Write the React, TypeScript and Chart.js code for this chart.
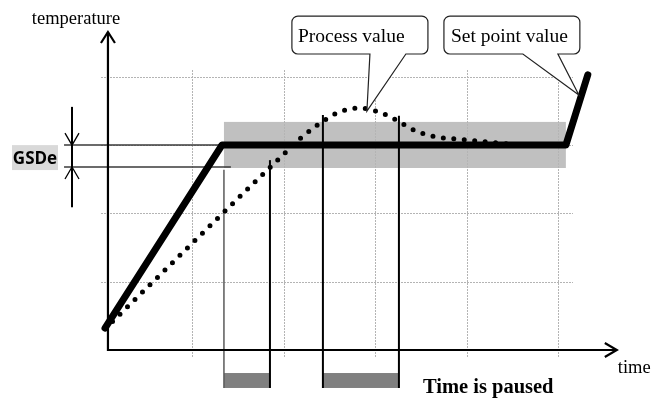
import React, { useEffect, useRef } from "react";
import { Chart, registerables } from "chart.js";

Chart.register(...registerables);

// ---- data (time units = grid columns, temperature units = grid rows) ----
const setPointTime = [0.044, 1.322, 5.082, 5.322];
const setPointTemp = [0.32, 3.0, 3.0, 4.03];

const processTime = [0.044, 2.022, 2.197, 2.383, 2.579, 2.809, 3.038, 3.246, 3.443, 3.672, 3.902, 4.131, 4.58];
const processTemp = [0.31, 2.899, 3.119, 3.309, 3.47, 3.543, 3.485, 3.353, 3.206, 3.119, 3.089, 3.06, 3.0];

const gridTimes = [1, 2, 3, 4, 5];
const gridTemps = [1, 2, 3, 4];

const bandTime = [1.344, 5.082];
const bandTemp = [2.665, 3.34];

const gsdeTemp = [3.0, 2.68];
const gsdeLineEnd = [1.322, 1.42];

const pauseStart = [1.344, 2.426];
const pauseEnd = [1.847, 3.257];
const pauseStartTop = [2.64, 3.44];
const pauseEndTop = [2.78, 3.43];

const labels = {
  yAxis: "temperature",
  xAxis: "time",
  gsde: "GSDe",
  paused: "Time is paused",
  process: "Process value",
  setPoint: "Set point value",
};

const SERIF = '"Liberation Serif", "Times New Roman", serif';

function roundedCallout(
  ctx: CanvasRenderingContext2D,
  x0: number, y0: number, x1: number, y1: number, r: number,
  b0: number, b1: number, tx: number, ty: number
) {
  ctx.beginPath();
  ctx.moveTo(x0 + r, y0);
  ctx.lineTo(x1 - r, y0);
  ctx.arcTo(x1, y0, x1, y0 + r, r);
  ctx.lineTo(x1, y1 - r);
  ctx.arcTo(x1, y1, x1 - r, y1, r);
  ctx.lineTo(b1, y1);
  ctx.lineTo(tx, ty);
  ctx.lineTo(b0, y1);
  ctx.lineTo(x0 + r, y1);
  ctx.arcTo(x0, y1, x0, y1 - r, r);
  ctx.lineTo(x0, y0 + r);
  ctx.arcTo(x0, y0, x0 + r, y0, r);
  ctx.closePath();
  ctx.fillStyle = "#ffffff";
  ctx.fill();
  ctx.strokeStyle = "#222";
  ctx.lineWidth = 1.2;
  ctx.stroke();
}

const diagramPlugin = {
  id: "diagram",
  beforeDatasetsDraw(chart: any) {
    const ctx: CanvasRenderingContext2D = chart.ctx;
    const xs = chart.scales.x;
    const ys = chart.scales.y;
    const X = (v: number) => xs.getPixelForValue(v);
    const Y = (v: number) => ys.getPixelForValue(v);
    const area = chart.chartArea;
    ctx.save();

    // band
    ctx.fillStyle = "#c0c0c0";
    ctx.fillRect(X(bandTime[0]), Y(bandTemp[1]), X(bandTime[1]) - X(bandTime[0]), Y(bandTemp[0]) - Y(bandTemp[1]));

    // grid
    ctx.strokeStyle = "#b4b4b4";
    ctx.lineWidth = 1;
    ctx.setLineDash([2, 1]);
    gridTimes.forEach((t) => {
      const px = Math.round(X(t)) + 0.5;
      ctx.beginPath();
      ctx.moveTo(px, area.top);
      ctx.lineTo(px, area.bottom);
      ctx.stroke();
    });
    gridTemps.forEach((v) => {
      const py = Math.round(Y(v)) + 0.5;
      ctx.beginPath();
      ctx.moveTo(area.left, py);
      ctx.lineTo(area.right, py);
      ctx.stroke();
    });
    ctx.setLineDash([]);

    // pause bars
    ctx.fillStyle = "#808080";
    pauseStart.forEach((s, i) => {
      ctx.fillRect(X(s), Y(-0.337), X(pauseEnd[i]) - X(s), Y(-0.556) - Y(-0.337));
    });
    // pause lines
    pauseStart.forEach((s, i) => {
      ctx.lineWidth = i === 0 ? 1.5 : 2;
      ctx.strokeStyle = i === 0 ? "#5a5a5a" : "#000";
      ctx.beginPath();
      ctx.moveTo(X(s), Y(pauseStartTop[i]));
      ctx.lineTo(X(s), Y(-0.556));
      ctx.stroke();
      ctx.lineWidth = 2;
      ctx.strokeStyle = "#000";
      ctx.beginPath();
      ctx.moveTo(X(pauseEnd[i]), Y(pauseEndTop[i]));
      ctx.lineTo(X(pauseEnd[i]), Y(-0.556));
      ctx.stroke();
    });

    // GSDe marks
    const gx = X(-0.317);
    ctx.strokeStyle = "#3a3a3a";
    ctx.lineWidth = 1.5;
    gsdeTemp.forEach((v, i) => {
      ctx.beginPath();
      ctx.moveTo(X(-0.404), Y(v));
      ctx.lineTo(X(gsdeLineEnd[i]), Y(v));
      ctx.stroke();
    });
    ctx.strokeStyle = "#000";
    ctx.lineWidth = 2;
    ctx.beginPath();
    ctx.moveTo(gx, Y(3.56));
    ctx.lineTo(gx, Y(2.09));
    ctx.stroke();
    ctx.lineWidth = 1.3;
    const yTop = Y(gsdeTemp[0]);
    const yBot = Y(gsdeTemp[1]);
    ctx.beginPath();
    ctx.moveTo(gx - 7, yTop - 12);
    ctx.lineTo(gx, yTop);
    ctx.lineTo(gx + 7, yTop - 12);
    ctx.moveTo(gx - 7, yBot + 12);
    ctx.lineTo(gx, yBot);
    ctx.lineTo(gx + 7, yBot + 12);
    ctx.stroke();

    // GSDe label
    ctx.fillStyle = "#d9d9d9";
    ctx.fillRect(X(-0.973), Y(3.0), X(-0.47) - X(-0.973), Y(2.635) - Y(3.0));
    ctx.fillStyle = "#000";
    ctx.font = 'bold 17px "Open Sans", "Noto Sans", sans-serif';
    ctx.textAlign = "center";
    ctx.textBaseline = "alphabetic";
    ctx.fillText(labels.gsde, (X(-0.973) + X(-0.47)) / 2, Y(2.68) - 3);

    // axes
    const ax = X(0.076);
    const ay = Y(0);
    const yTip = Y(4.656);
    const xTip = X(5.639);
    ctx.strokeStyle = "#000";
    ctx.lineWidth = 2.2;
    ctx.lineJoin = "miter";
    ctx.beginPath();
    ctx.moveTo(ax, yTip);
    ctx.lineTo(ax, ay);
    ctx.lineTo(xTip, ay);
    ctx.stroke();
    ctx.beginPath();
    ctx.moveTo(ax - 7, yTip + 11);
    ctx.lineTo(ax, yTip);
    ctx.lineTo(ax + 7, yTip + 11);
    ctx.moveTo(xTip - 12, ay - 7);
    ctx.lineTo(xTip, ay);
    ctx.lineTo(xTip - 12, ay + 7);
    ctx.stroke();

    // axis labels
    ctx.font = `18.5px ${SERIF}`;
    ctx.textAlign = "center";
    ctx.fillText(labels.yAxis, X(-0.273), Y(4.773));
    ctx.textAlign = "left";
    ctx.fillText(labels.xAxis, X(5.65), Y(-0.337));
    ctx.font = `bold 20.5px ${SERIF}`;
    ctx.fillText(labels.paused, X(3.519), Y(-0.63));

    ctx.restore();
  },
  afterDatasetsDraw(chart: any) {
    const ctx: CanvasRenderingContext2D = chart.ctx;
    const xs = chart.scales.x;
    const ys = chart.scales.y;
    const X = (v: number) => xs.getPixelForValue(v);
    const Y = (v: number) => ys.getPixelForValue(v);
    ctx.save();
    roundedCallout(ctx, X(2.087), Y(4.89), X(3.574), Y(4.334), 6, X(2.94), X(3.333), X(2.907), Y(3.499));
    roundedCallout(ctx, X(3.749), Y(4.89), X(5.235), Y(4.334), 6, X(4.612), X(4.995), X(5.224), Y(3.733));
    ctx.fillStyle = "#000";
    ctx.font = `19.5px ${SERIF}`;
    ctx.textAlign = "left";
    ctx.textBaseline = "alphabetic";
    ctx.fillText(labels.process, X(2.087) + 6, Y(4.51));
    ctx.fillText(labels.setPoint, X(3.749) + 7, Y(4.51));
    ctx.restore();
  },
};

export default function App() {
  const ref = useRef<HTMLCanvasElement | null>(null);
  useEffect(() => {
    if (!ref.current) return;
    const chart = new Chart(ref.current, {
      type: "line",
      data: {
        datasets: [
          {
            label: "Set point value",
            data: setPointTime.map((t, i) => ({ x: t, y: setPointTemp[i] })),
            borderColor: "#000",
            borderWidth: 7,
            borderCapStyle: "round",
            borderJoinStyle: "round",
            pointRadius: 0,
            tension: 0,
            clip: false,
            order: 0,
          },
          {
            label: "Process value",
            data: processTime.map((t, i) => ({ x: t, y: processTemp[i] })),
            borderColor: "#000",
            borderWidth: 5,
            borderDash: [0, 10.5],
            borderCapStyle: "round",
            pointRadius: 0,
            cubicInterpolationMode: "monotone",
            clip: false,
            order: 1,
          },
        ] as any,
      },
      options: {
        animation: false,
        responsive: true,
        maintainAspectRatio: false,
        layout: { padding: { left: 101, right: 85, top: 70, bottom: 40 } },
        plugins: { legend: { display: false }, tooltip: { enabled: false } },
        events: [],
        scales: {
          x: { type: "linear", display: false, min: 0, max: 5.16 },
          y: { type: "linear", display: false, min: -0.117, max: 4.1 },
        },
      },
      plugins: [diagramPlugin],
    });
    return () => chart.destroy();
  }, []);
  return (
    <div style={{ position: "absolute", left: 0, top: 0, width: 658, height: 398 }}>
      <canvas ref={ref} />
    </div>
  );
}
